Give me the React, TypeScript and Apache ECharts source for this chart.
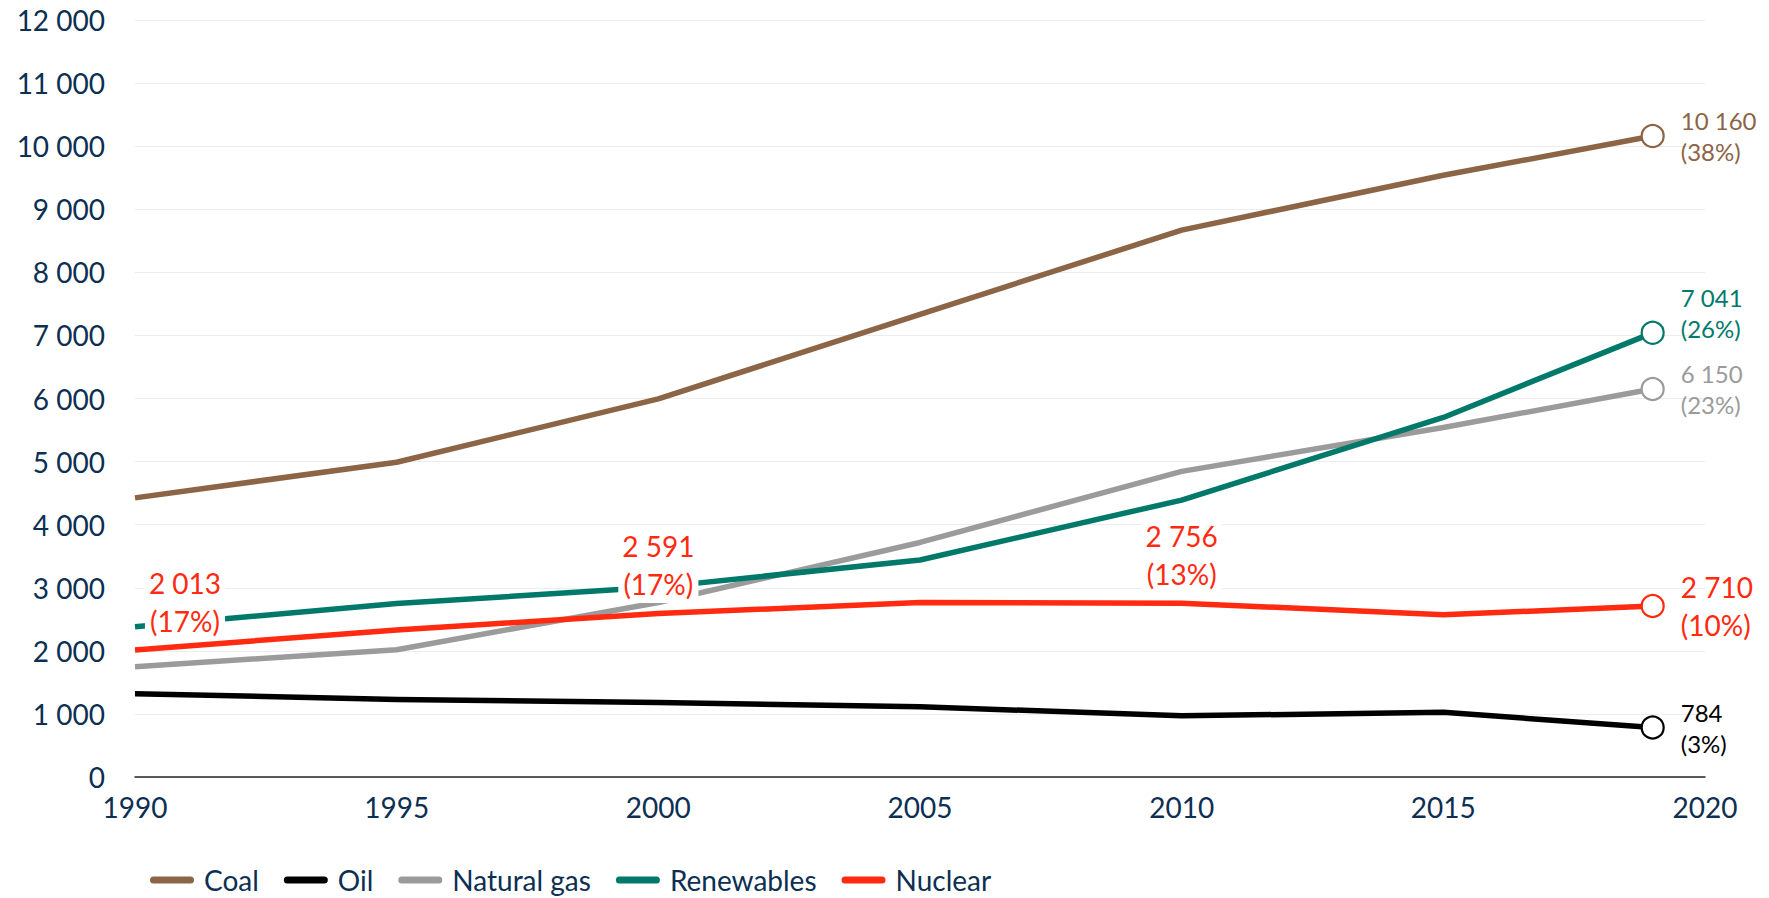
import React, { useEffect, useRef } from "react";
import * as echarts from "echarts";

// Electricity generation by source, TWh
const years = [1990, 1995, 2000, 2005, 2010, 2015, 2019];
const coal = [4425, 4990, 5994, 7334, 8670, 9538, 10160];
const oil = [1320, 1230, 1180, 1113, 970, 1025, 784];
const naturalGas = [1748, 2018, 2766, 3718, 4845, 5540, 6150];
const renewables = [2380, 2750, 3010, 3440, 4390, 5700, 7041];
const nuclear = [2013, 2332, 2591, 2768, 2756, 2571, 2710];

// Share of total generation (%) shown next to labelled points
const coalShare = [null, null, null, null, null, null, 38];
const oilShare = [null, null, null, null, null, null, 3];
const gasShare = [null, null, null, null, null, null, 23];
const renewablesShare = [null, null, null, null, null, null, 26];
const nuclearShare = [17, null, 17, null, 13, null, 10];

const yTicks = { min: 0, max: 12000, step: 1000 };
const xTicks = { min: 1990, max: 2020, step: 5 };

const FONT = "Lato, 'Open Sans', sans-serif";
const AXIS_TEXT = "#0C2F52";

const fmt = (n: number): string =>
  String(Math.round(n)).replace(/\B(?=(\d{3})+(?!\d))/g, " ");

type SeriesDef = {
  name: string;
  values: number[];
  shares: (number | null)[];
  color: string;
  labelColor: string;
  big: boolean;
  endOffset: [number, number];
  z: number;
};

const defs: SeriesDef[] = [
  { name: "Coal", values: coal, shares: coalShare, color: "#8C6446", labelColor: "#8C6446", big: false, endOffset: [0, 0], z: 2 },
  { name: "Oil", values: oil, shares: oilShare, color: "#000000", labelColor: "#000000", big: false, endOffset: [0, 0], z: 2 },
  { name: "Natural gas", values: naturalGas, shares: gasShare, color: "#9B9B9B", labelColor: "#9B9B9B", big: false, endOffset: [0, 0], z: 2 },
  { name: "Renewables", values: renewables, shares: renewablesShare, color: "#00796B", labelColor: "#00796B", big: false, endOffset: [0, -20], z: 2 },
  { name: "Nuclear", values: nuclear, shares: nuclearShare, color: "#FF2A10", labelColor: "#FF2A10", big: true, endOffset: [0, 0], z: 3 },
];

function buildSeries(d: SeriesDef) {
  const last = years.length - 1;
  const data = years.map((yr, i) => {
    const v = d.values[i];
    const share = d.shares[i];
    if (share == null) return { value: [yr, v] };
    const text = `${fmt(v)}\n(${share}%)`;
    const fontSize = d.big ? 28 : 24;
    const lineHeight = d.big ? 38 : 31;
    if (i === last) {
      return {
        value: [yr, v],
        symbol: "circle",
        symbolSize: 22,
        itemStyle: { color: "#ffffff", borderColor: d.color, borderWidth: 2.2 },
        label: {
          show: true,
          position: "right",
          distance: 16,
          offset: d.endOffset,
          formatter: text,
          color: d.labelColor,
          fontFamily: FONT,
          fontSize,
          lineHeight,
          align: "left",
        },
      };
    }
    return {
      value: [yr, v],
      symbol: "circle",
      symbolSize: 1,
      itemStyle: { color: "rgba(0,0,0,0)", borderWidth: 0 },
      label: {
        show: true,
        position: "top",
        distance: 10,
        offset: i === 0 ? [50, 0] : [0, 0],
        formatter: text,
        color: d.labelColor,
        fontFamily: FONT,
        fontSize,
        lineHeight,
        align: "center",
        backgroundColor: "#ffffff",
        padding: [0, 4],
      },
    };
  });
  return {
    name: d.name,
    type: "line",
    z: d.z,
    color: d.color,
    symbol: "none",
    showSymbol: true,
    lineStyle: { color: d.color, width: 5.5, cap: "butt", join: "round" },
    emphasis: { disabled: true },
    data,
  };
}

export default function App() {
  const ref = useRef<HTMLDivElement>(null);

  useEffect(() => {
    document.body.style.margin = "0";
    if (!ref.current) return;
    const chart = echarts.init(ref.current, null, { renderer: "svg" });
    chart.setOption({
      animation: false,
      backgroundColor: "#ffffff",
      grid: { left: 135, right: 64, top: 20, bottom: 121, containLabel: false },
      xAxis: {
        type: "value",
        min: xTicks.min,
        max: xTicks.max,
        interval: xTicks.step,
        axisLine: { show: true, onZero: true, lineStyle: { color: "#262626", width: 1.5 } },
        axisTick: { show: false },
        splitLine: { show: false },
        axisLabel: {
          color: AXIS_TEXT,
          fontFamily: FONT,
          fontSize: 28,
          margin: 16,
          formatter: (v: number) => String(v),
        },
      },
      yAxis: {
        type: "value",
        min: yTicks.min,
        max: yTicks.max,
        interval: yTicks.step,
        axisLine: { show: false },
        axisTick: { show: false },
        splitLine: { show: true, lineStyle: { color: "#EDEDED", width: 1.2 } },
        axisLabel: {
          color: AXIS_TEXT,
          fontFamily: FONT,
          fontSize: 28,
          margin: 30,
          formatter: (v: number) => fmt(v),
        },
      },
      legend: {
        show: true,
        left: 145,
        top: 861,
        orient: "horizontal",
        itemWidth: 44,
        itemHeight: 7,
        itemGap: 25,
        icon: "path://M3.5,0H40.5A3.5,3.5,0,0,1,40.5,7H3.5A3.5,3.5,0,0,1,3.5,0Z",
        selectedMode: false,
        textStyle: {
          color: AXIS_TEXT,
          fontFamily: FONT,
          fontSize: 28,
          padding: [0, 0, 0, 5],
        },
        data: defs.map((d) => d.name),
      },
      series: defs.map(buildSeries),
    });
    return () => chart.dispose();
  }, []);

  return <div ref={ref} style={{ width: 1769, height: 898 }} />;
}
